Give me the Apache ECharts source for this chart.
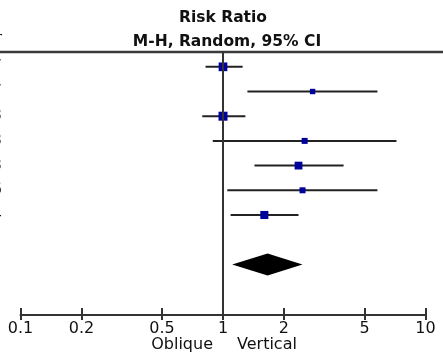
<!DOCTYPE html>
<html>
<head>
<meta charset="utf-8">
<script src="https://cdn.jsdelivr.net/npm/echarts@6.0.0/dist/echarts.min.js"></script>
<style>
  html, body { margin: 0; padding: 0; background: #fff; }
  #chart { width: 443px; height: 364px; }
</style>
</head>
<body>
<div id="chart"></div>
<script>
// study rows (only the last characters of the labels survive the crop)
const studyLabels = ["7", "7", "3", "3", "3", "6", "4"];
const riskRatio = [1.0, 2.77, 1.0, 2.53, 2.36, 2.47, 1.6];
const ciLower = [0.82, 1.32, 0.79, 0.89, 1.43, 1.05, 1.09];
const ciUpper = [1.25, 5.79, 1.29, 7.19, 3.94, 5.79, 2.36];
const weights = [19, 8, 20, 10, 16, 10, 17]; // %

// pooled estimate
const pooledRR = 1.66;
const pooledLower = 1.11;
const pooledUpper = 2.47;

const tickValues = [0.1, 0.2, 0.5, 1, 2, 5, 10];

const FONT = "DejaVu Sans";
const INK = "#333";

const studyData = riskRatio.map((v, i) => [ciLower[i], ciUpper[i], v, i + 1, weights[i], studyLabels[i]]);
const pooledRow = studyData.length + 2;

const chart = echarts.init(document.getElementById("chart"));

const headStyle = { fontFamily: FONT, fontSize: 15.5, fontWeight: "bold", fill: "#111", align: "center", verticalAlign: "middle" };

const option = {
  animation: false,
  grid: { left: 20.5, right: 17.5, top: 52, bottom: 49 },
  xAxis: [
    {
      type: "log",
      logBase: 10,
      min: 0.1,
      max: 10,
      position: "bottom",
      axisLine: { lineStyle: { color: INK, width: 2 } },
      axisTick: { length: 5, customValues: tickValues, lineStyle: { color: INK, width: 2 } },
      axisLabel: {
        customValues: tickValues,
        margin: 6,
        fontFamily: FONT,
        fontSize: 16,
        color: "#111",
        formatter: (v) => String(+Number(v).toPrecision(3)),
      },
      splitLine: { show: false },
    },
    {
      type: "log",
      logBase: 10,
      min: 0.1,
      max: 10,
      position: "bottom",
      axisLine: { show: false },
      axisTick: { inside: true, length: 7, customValues: tickValues, lineStyle: { color: INK, width: 2 } },
      axisLabel: { show: false },
      splitLine: { show: false },
    },
  ],
  yAxis: {
    type: "value",
    inverse: true,
    min: 0.4,
    max: 11.05,
    show: false,
  },
  graphic: [
    { type: "text", x: 223, y: 18, style: Object.assign({ text: "Risk Ratio" }, headStyle) },
    { type: "text", x: 227, y: 42, style: Object.assign({ text: "M-H, Random, 95% CI" }, headStyle) },
    {
      type: "line",
      shape: { x1: 0, y1: 52, x2: 443, y2: 52 },
      style: { stroke: "#3a3a3a", lineWidth: 2.5 },
    },
    {
      type: "text",
      x: 2,
      y: 39,
      style: { text: "r", align: "right", verticalAlign: "middle", fontFamily: FONT, fontSize: 16, fill: "#111" },
    },
    {
      type: "text",
      x: 213,
      y: 345,
      style: { text: "Oblique", align: "right", verticalAlign: "middle", fontFamily: FONT, fontSize: 16, fill: "#111" },
    },
    {
      type: "text",
      x: 237,
      y: 345,
      style: { text: "Vertical", align: "left", verticalAlign: "middle", fontFamily: FONT, fontSize: 16, fill: "#111" },
    },
  ],
  series: [
    {
      type: "custom",
      clip: false,
      data: studyData,
      encode: { x: [0, 1, 2], y: 3 },
      renderItem: (params, api) => {
        const row = api.value(3);
        const a = api.coord([api.value(0), row]);
        const b = api.coord([api.value(1), row]);
        const c = api.coord([api.value(2), row]);
        const s = 3 + api.value(4) * 0.3;
        return {
          type: "group",
          children: [
            {
              type: "line",
              shape: { x1: a[0], y1: a[1], x2: b[0], y2: b[1] },
              style: { stroke: "#222", lineWidth: 2 },
            },
            {
              type: "rect",
              shape: { x: c[0] - s / 2, y: c[1] - s / 2, width: s, height: s },
              style: { fill: "#00009c" },
            },
            {
              type: "text",
              x: 2,
              y: c[1],
              style: {
                text: studyData[params.dataIndex][5],
                align: "right",
                verticalAlign: "middle",
                fontFamily: FONT,
                fontSize: 16,
                fill: "#111",
              },
            },
          ],
        };
      },
    },
    {
      type: "custom",
      clip: false,
      data: [[pooledLower, pooledUpper, pooledRR, pooledRow]],
      encode: { x: [0, 1, 2], y: 3 },
      renderItem: (params, api) => {
        const row = api.value(3);
        const a = api.coord([api.value(0), row]);
        const b = api.coord([api.value(1), row]);
        const c = api.coord([api.value(2), row]);
        const h = 11;
        return {
          type: "polygon",
          shape: { points: [[a[0], a[1]], [c[0], c[1] - h], [b[0], b[1]], [c[0], c[1] + h]] },
          style: { fill: "#000" },
        };
      },
      markLine: {
        silent: true,
        symbol: "none",
        label: { show: false },
        lineStyle: { color: INK, width: 2, type: "solid" },
        data: [{ xAxis: 1 }],
      },
    },
  ],
};

chart.setOption(option);
</script>
</body>
</html>
